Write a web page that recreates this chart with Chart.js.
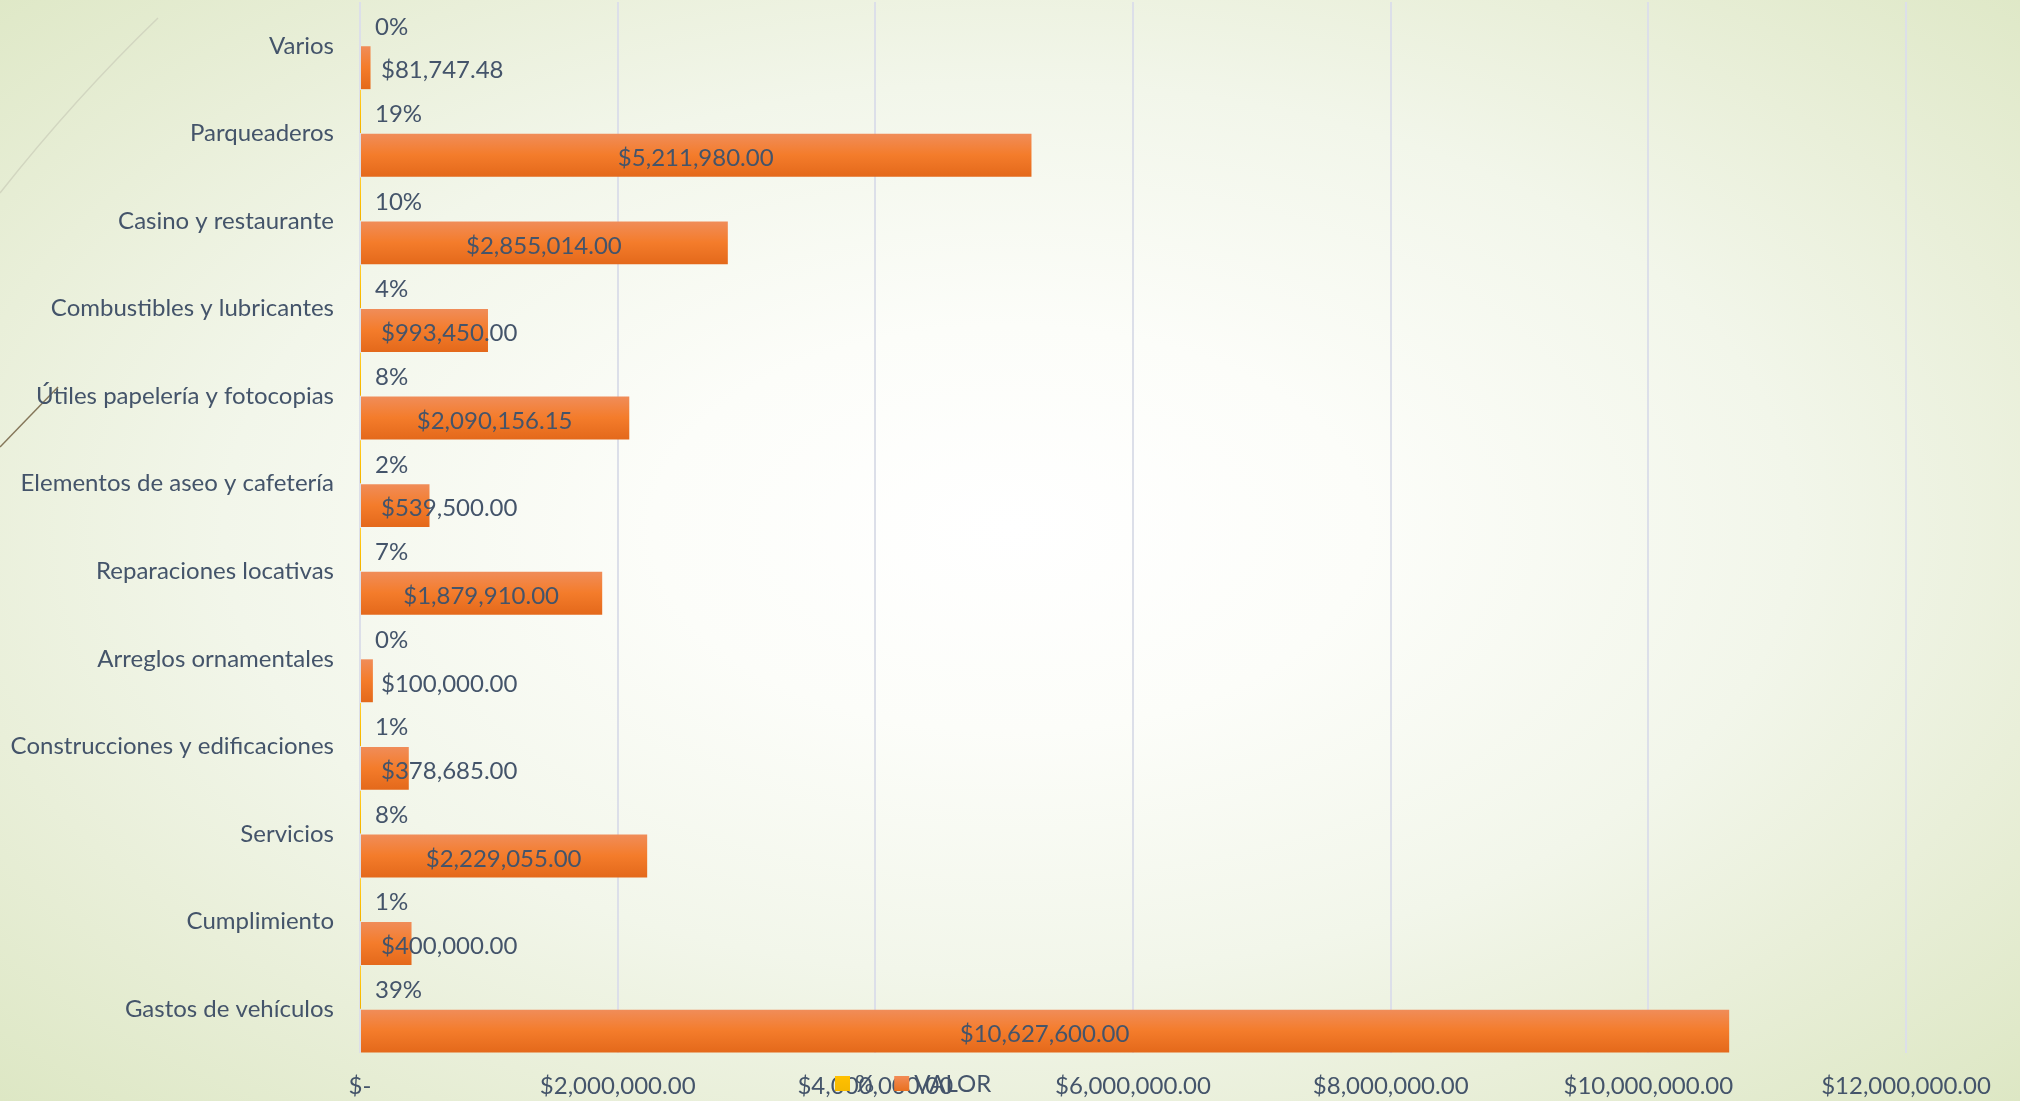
<!DOCTYPE html>
<html>
<head>
<meta charset="utf-8">
<script src="https://cdn.jsdelivr.net/npm/chart.js@4.4.1/dist/chart.umd.min.js"></script>
<style>
    html, body { margin: 0; padding: 0; }
    body {
        width: 2020px;
        height: 1101px;
        overflow: hidden;
        background: radial-gradient(ellipse at 50% 48%, #ffffff 0%, #fcfdf9 25%, #f2f6ea 55%, #e9efd9 75%, #dde7c4 100%);
    }
    .wrap { position: relative; width: 2020px; height: 1101px; }
</style>
</head>
<body>
<div class="wrap"><canvas id="myChart"></canvas></div>
<script>
/* gastos por rubro: barra VALOR con su % encima */
const categories = [
    "Varios",
    "Parqueaderos",
    "Casino y restaurante",
    "Combustibles y lubricantes",
    "Útiles papelería y fotocopias",
    "Elementos de aseo y cafetería",
    "Reparaciones locativas",
    "Arreglos ornamentales",
    "Construcciones y edificaciones",
    "Servicios",
    "Cumplimiento",
    "Gastos de vehículos"
];
const valor = [81747.48, 5211980, 2855014, 993450, 2090156.15, 539500, 1879910, 100000, 378685, 2229055, 400000, 10627600];
const porcentaje = [0, 19, 10, 4, 8, 2, 7, 0, 1, 8, 1, 39];
const xTicks = [0, 2000000, 4000000, 6000000, 8000000, 10000000, 12000000];

const textColor = "#44546a";
const gridColor = "#dcdfe9";
const fontFamily = "Lato";
const fontSize = 24;

function money(v) {
    if (v === 0) return "$-";
    return "$" + v.toLocaleString("en-US", { minimumFractionDigits: 2, maximumFractionDigits: 2 });
}

// vertical gradient for one half of a category band
function bandGradient(c, upper, stops, flat) {
    if (c.type !== "data") return flat;
    const chart = c.chart;
    const y = chart.scales.y;
    if (!y || !chart.chartArea) return flat;
    const center = y.getPixelForValue(c.dataIndex);
    const band = (chart.chartArea.bottom - chart.chartArea.top) / categories.length;
    const top = upper ? center - band * 0.49 : center;
    const g = chart.ctx.createLinearGradient(0, top, 0, top + band * 0.49);
    g.addColorStop(0, stops[0]);
    g.addColorStop(0.5, stops[1]);
    g.addColorStop(1, stops[2]);
    return g;
}

const decoPlugin = {
    id: "deco",
    beforeDraw(chart) {
        const ctx = chart.ctx;
        ctx.save();
        ctx.lineWidth = 1.5;
        ctx.strokeStyle = "#d2d6c0";
        ctx.beginPath();
        ctx.moveTo(158, 18);
        ctx.quadraticCurveTo(75, 98, 0, 193);
        ctx.stroke();
        ctx.strokeStyle = "#857659";
        ctx.beginPath();
        ctx.moveTo(58, 387);
        ctx.lineTo(0, 447);
        ctx.stroke();
        ctx.restore();
    }
};

const labelPlugin = {
    id: "barLabels",
    afterDatasetsDraw(chart) {
        const ctx = chart.ctx;
        const x0 = chart.scales.x.getPixelForValue(0);
        ctx.save();
        ctx.font = fontSize + "px " + fontFamily;
        ctx.fillStyle = textColor;
        ctx.textBaseline = "middle";
        ctx.textAlign = "left";
        chart.getDatasetMeta(0).data.forEach(function(bar, i) {
            ctx.fillText(porcentaje[i] + "%", bar.x + 15, bar.y + 3);
        });
        chart.getDatasetMeta(1).data.forEach(function(bar, i) {
            const txt = money(valor[i]);
            const w = ctx.measureText(txt).width;
            const left = Math.max((x0 + bar.x) / 2 - w / 2, x0 + 21);
            ctx.fillText(txt, left, bar.y + 3);
        });
        ctx.restore();
    }
};

const legendPlugin = {
    id: "bottomLegend",
    afterDraw(chart) {
        const ctx = chart.ctx;
        const y = 1084;
        let x = 835;
        ctx.save();
        ctx.font = fontSize + "px " + fontFamily;
        ctx.textBaseline = "middle";
        ctx.textAlign = "left";
        const boxes = [["#ffc000", "#f5b800"], ["#f28a52", "#e8701f"]];
        chart.data.datasets.forEach(function(ds, i) {
            const g = ctx.createLinearGradient(0, y - 7, 0, y + 7);
            g.addColorStop(0, boxes[i][0]);
            g.addColorStop(1, boxes[i][1]);
            ctx.fillStyle = g;
            ctx.fillRect(x, y - 8, 15, 15);
            ctx.fillStyle = textColor;
            ctx.fillText(ds.label, x + 20, y);
            x += 20 + ctx.measureText(ds.label).width + 20;
        });
        ctx.restore();
    }
};

const ctx = document.getElementById("myChart").getContext("2d");

const chart = new Chart(ctx, {
    type: "bar",
    data: {
        labels: categories,
        datasets: [{
            label: "%",
            data: porcentaje.map(p => p / 100),
            backgroundColor: c => bandGradient(c, true, ["#ffcc33", "#ffc000", "#f0b000"], "#ffc000"),
            borderWidth: 0
        }, {
            label: "VALOR",
            data: valor,
            backgroundColor: c => bandGradient(c, false, ["#f08d5a", "#f47c2b", "#e4691b"], "#f47c2b"),
            borderWidth: 0
        }]
    },
    options: {
        indexAxis: "y",
        responsive: true,
        maintainAspectRatio: false,
        animation: false,
        layout: { padding: { top: 2, right: 114, bottom: 0, left: 0 } },
        datasets: { bar: { categoryPercentage: 1, barPercentage: 0.98 } },
        plugins: {
            legend: { display: false },
            tooltip: { enabled: false }
        },
        scales: {
            x: {
                min: 0,
                max: 12000000,
                afterBuildTicks: function(scale) {
                    scale.ticks = xTicks.map(v => ({ value: v }));
                },
                ticks: {
                    callback: v => money(v),
                    color: textColor,
                    font: { family: fontFamily, size: fontSize },
                    padding: 19,
                    maxRotation: 0,
                    autoSkip: false
                },
                grid: { color: gridColor, lineWidth: 2, drawTicks: false },
                border: { display: false },
                afterFit: function(scale) {
                    scale.height = 48;
                    scale.paddingLeft = 0;
                }
            },
            y: {
                ticks: {
                    color: textColor,
                    font: { family: fontFamily, size: fontSize },
                    padding: 26
                },
                grid: { display: false, drawTicks: false },
                border: { display: false },
                afterFit: function(scale) {
                    scale.width = 360;
                    scale.paddingTop = 0;
                    scale.paddingBottom = 0;
                }
            }
        }
    },
    plugins: [decoPlugin, labelPlugin, legendPlugin]
});
</script>
</body>
</html>
